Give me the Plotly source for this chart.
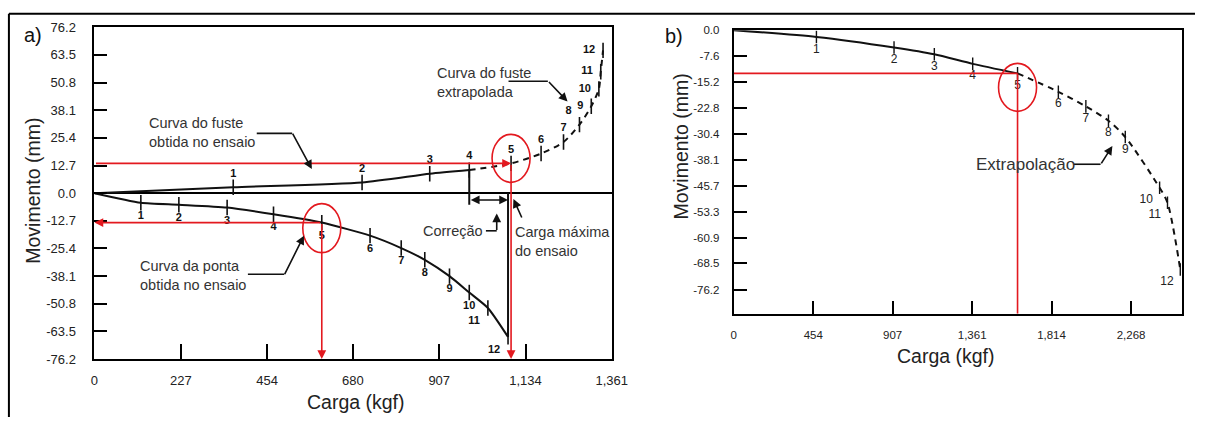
import plotly.graph_objects as go

W, H = 1211, 425

# ---------------- data ----------------
# a) fuste curve: origin + points 1..12 (1-4 measured, 5-12 extrapolated)
fuste_carga = [0, 365, 704, 882, 986, 1096, 1175, 1234, 1276, 1307, 1327, 1332, 1338]
fuste_mov = [0, 2.7, 4.9, 8.9, 10.6, 13.7, 18.2, 23.5, 31.5, 39.9, 47.9, 55.8, 65.6]
fuste_ultimo_ensaio = 4

# a) ponta curve: origin + points 1..12
ponta_carga = [0, 122, 222, 349, 471, 598, 725, 807, 869, 934, 986, 1035, 1088]
ponta_mov = [0, -4.4, -5.3, -6.6, -9.7, -13.5, -19.5, -25.2, -30.6, -38.1, -45.6, -52.7, -66.0]

# b) extrapolated curve: origin + points 1..12 (1-5 measured)
b_carga = [0, 472, 915, 1145, 1364, 1620, 1853, 2010, 2139, 2235, 2431, 2476, 2549]
b_mov = [0, -2.0, -5.1, -7.1, -9.9, -12.7, -18.1, -22.4, -26.6, -31.4, -46.3, -50.7, -70.3]
b_ultimo_ensaio = 5

point_labels = [str(i) for i in range(1, 13)]

a_xticks = [0, 227, 454, 680, 907, 1134, 1361]
a_xticklabels = ["0", "227", "454", "680", "907", "1,134", "1,361"]
a_yticks = [76.2, 63.5, 50.8, 38.1, 25.4, 12.7, 0.0, -12.7, -25.4, -38.1, -50.8, -63.5, -76.2]
a_yticklabels = ["76.2", "63.5", "50.8", "38.1", "25.4", "12.7", "0.0", "-12.7", "-25.4",
                 "-38.1", "-50.8", "-63.5", "-76.2"]
b_xticks = [0, 454, 907, 1361, 1814, 2268]
b_xticklabels = ["0", "454", "907", "1,361", "1,814", "2,268"]
b_yticks = [0.0, -7.6, -15.2, -22.8, -30.4, -38.1, -45.7, -53.3, -60.9, -68.5, -76.2]
b_yticklabels = ["0.0", "-7.6", "-15.2", "-22.8", "-30.4", "-38.1", "-45.7", "-53.3",
                 "-60.9", "-68.5", "-76.2"]

# ---------------- styles ----------------
RED = "#e3191f"
INK = "#111111"
TXT = "#333333"
FONT = "Liberation Sans, Arial, sans-serif"
LW = 2


def P(x, y):
    return x / W, 1 - y / H


fig = go.Figure()

# ---- a) fuste ----
k = fuste_ultimo_ensaio
fig.add_trace(go.Scatter(x=fuste_carga[:k + 1], y=fuste_mov[:k + 1], mode="lines",
                         line=dict(color=INK, width=LW, shape="spline", smoothing=0.6),
                         xaxis="x", yaxis="y", showlegend=False))
fig.add_trace(go.Scatter(x=fuste_carga[k:], y=fuste_mov[k:], mode="lines",
                         line=dict(color=INK, width=LW, dash="6px,5px", shape="spline", smoothing=0.8),
                         xaxis="x", yaxis="y", showlegend=False))
fuste_pos = ["top center"] * 7 + ["top left"] + ["middle left"] * 4
fig.add_trace(go.Scatter(x=fuste_carga[1:], y=fuste_mov[1:], mode="markers+text",
                         marker=dict(symbol="line-ns", size=11, line=dict(color=INK, width=1.6)),
                         text=point_labels, textposition=fuste_pos,
                         textfont=dict(family=FONT, size=11, color=INK, weight="bold"),
                         xaxis="x", yaxis="y", showlegend=False))

# ---- a) ponta ----
fig.add_trace(go.Scatter(x=ponta_carga, y=ponta_mov, mode="lines",
                         line=dict(color=INK, width=LW, shape="spline", smoothing=0.6),
                         xaxis="x", yaxis="y", showlegend=False))
ponta_pos = ["bottom center"] * 10 + ["bottom left"] * 2
fig.add_trace(go.Scatter(x=ponta_carga[1:], y=ponta_mov[1:], mode="markers+text",
                         marker=dict(symbol="line-ns", size=11, line=dict(color=INK, width=1.6)),
                         text=point_labels, textposition=ponta_pos,
                         textfont=dict(family=FONT, size=11, color=INK, weight="bold"),
                         xaxis="x", yaxis="y", showlegend=False))

# ---- b) ----
kb = b_ultimo_ensaio
fig.add_trace(go.Scatter(x=b_carga[:kb + 1], y=b_mov[:kb + 1], mode="lines",
                         line=dict(color=INK, width=LW, shape="spline", smoothing=0.6),
                         xaxis="x2", yaxis="y2", showlegend=False))
fig.add_trace(go.Scatter(x=b_carga[kb:], y=b_mov[kb:], mode="lines",
                         line=dict(color=INK, width=LW, dash="6px,5px", shape="spline", smoothing=0.8),
                         xaxis="x2", yaxis="y2", showlegend=False))
b_pos = ["bottom center"] * 9 + ["bottom left"] * 3
fig.add_trace(go.Scatter(x=b_carga[1:], y=b_mov[1:], mode="markers+text",
                         marker=dict(symbol="line-ns", size=9, line=dict(color=INK, width=1.4)),
                         text=point_labels, textposition=b_pos,
                         textfont=dict(family=FONT, size=12, color="#222222"),
                         xaxis="x2", yaxis="y2", showlegend=False))

shapes = []
annotations = []

# overall border (top and left)
for (x0, y0, x1, y1) in [(5, 7, W, 7), (5, 7, 5, H)]:
    a0, b0 = P(x0, y0)
    a1, b1 = P(x1, y1)
    shapes.append(dict(type="line", xref="paper", yref="paper", x0=a0, y0=b0, x1=a1, y1=b1,
                       line=dict(color="black", width=2)))

# ---- red readings in a) ----
fx5, fy5 = fuste_carga[5], fuste_mov[5]
px5, py5 = ponta_carga[5], ponta_mov[5]


def red_arrow(xh, yh, xt, yt, xr="x", yr="y"):
    annotations.append(dict(x=xh, y=yh, ax=xt, ay=yt, xref=xr, yref=yr, axref=xr, ayref=yr,
                            text="", showarrow=True, arrowhead=2, arrowsize=1.1,
                            arrowwidth=1.6, arrowcolor=RED))


red_arrow(fx5, fy5, 0, fy5)
red_arrow(fx5, -76.2, fx5, fy5)
red_arrow(0, py5, px5, py5)
red_arrow(px5, -76.2, px5, py5)

shapes.append(dict(type="circle", xref="x", yref="y", xsizemode="pixel", ysizemode="pixel",
                   xanchor=fx5, yanchor=fy5, x0=-19, x1=19, y0=-19, y1=29,
                   line=dict(color=RED, width=1.6)))
shapes.append(dict(type="circle", xref="x", yref="y", xsizemode="pixel", ysizemode="pixel",
                   xanchor=px5, yanchor=py5, x0=-19, x1=19, y0=-30, y1=19,
                   line=dict(color=RED, width=1.6)))

# black verticals (correction) in a)
x4, y4 = fuste_carga[fuste_ultimo_ensaio], fuste_mov[fuste_ultimo_ensaio]
xmax, ymax = ponta_carga[-1], ponta_mov[-1]
shapes.append(dict(type="line", xref="x", yref="y", x0=x4, y0=y4, x1=x4, y1=-5.3,
                   line=dict(color=INK, width=LW)))
shapes.append(dict(type="line", xref="x", yref="y", x0=xmax, y0=0, x1=xmax, y1=ymax,
                   line=dict(color=INK, width=LW)))
annotations.append(dict(x=xmax, y=-3.1, ax=x4, ay=-3.1, xref="x", yref="y", axref="x", ayref="y",
                        text="", showarrow=True, arrowhead=2, arrowside="end+start",
                        arrowsize=1.1, arrowwidth=1.6, arrowcolor=INK))

# ---- red readings in b) ----
bx5, by5 = b_carga[5], b_mov[5]
shapes.append(dict(type="line", xref="x2", yref="y2", x0=0, y0=by5, x1=bx5, y1=by5,
                   line=dict(color=RED, width=1.6)))
shapes.append(dict(type="line", xref="x2", yref="y2", x0=bx5, y0=by5, x1=bx5, y1=-83.3,
                   line=dict(color=RED, width=1.6)))
shapes.append(dict(type="circle", xref="x2", yref="y2", xsizemode="pixel", ysizemode="pixel",
                   xanchor=bx5, yanchor=by5, x0=-19, x1=19, y0=-38, y1=10,
                   line=dict(color=RED, width=1.6)))


# ---- callouts (pixel layout positions) ----
def callout(pts):
    for (xa, ya), (xb, yb) in zip(pts[:-2], pts[1:-1]):
        a0, b0 = P(xa, ya)
        a1, b1 = P(xb, yb)
        shapes.append(dict(type="line", xref="paper", yref="paper", x0=a0, y0=b0, x1=a1, y1=b1,
                           line=dict(color=INK, width=1.6)))
    (xt, yt), (xh, yh) = pts[-2], pts[-1]
    hx, hy = P(xh, yh)
    annotations.append(dict(x=hx, y=hy, xref="paper", yref="paper", ax=xt - xh, ay=yt - yh,
                            text="", showarrow=True, arrowhead=2, arrowsize=1.1,
                            arrowwidth=1.6, arrowcolor=INK))


def label(text, x, y, size=14.5, anchor="left"):
    ax_, ay_ = P(x, y)
    annotations.append(dict(x=ax_, y=ay_, xref="paper", yref="paper", text=text, showarrow=False,
                            xanchor=anchor, yanchor="middle", align="left",
                            font=dict(family=FONT, size=size, color=TXT)))


label("Curva do fuste<br>obtida no ensaio", 145, 130)
callout([(257, 131), (293, 131), (313, 168)])
label("Curva do fuste<br>extrapolada", 438, 78)
callout([(513, 77), (553, 77), (573, 98)])
label("Curva da ponta<br>obtida no ensaio", 136, 278)
callout([(248, 277), (285, 277), (305, 237)])
label("Correção", 489, 232, anchor="right")
callout([(490, 232), (501, 232), (501, 214)])
label("Carga máxima<br>do ensaio", 518, 243)
callout([(527, 219), (518, 199)])
label("Extrapolação", 986, 163, size=17)
callout([(1088, 163), (1115, 163), (1127, 144)])

# panel letters and axis titles
for t, x, y in [("a)", 29, 29), ("b)", 681, 30)]:
    ax_, ay_ = P(x, y)
    annotations.append(dict(x=ax_, y=ay_, xref="paper", yref="paper", text=t, showarrow=False,
                            xanchor="center", yanchor="middle",
                            font=dict(family=FONT, size=20, color="#111")))
for t, x, y, ang in [("Movimento (mm)", 30, 191, -90), ("Carga (kgf)", 358, 409, 0),
                     ("Movimento (mm)", 688, 145, -90), ("Carga (kgf)", 958, 362, 0)]:
    ax_, ay_ = P(x, y)
    annotations.append(dict(x=ax_, y=ay_, xref="paper", yref="paper", text=t, showarrow=False,
                            xanchor="center", yanchor="middle", textangle=ang,
                            font=dict(family=FONT, size=19.5, color="#222")))

axis_common = dict(showline=True, linecolor="black", linewidth=2, mirror=True, ticks="inside",
                   tickcolor="black", tickwidth=1.6, showgrid=False, tickmode="array")

fig.update_layout(
    width=W, height=H, margin=dict(l=0, r=0, t=0, b=0),
    paper_bgcolor="white", plot_bgcolor="white", showlegend=False,
    xaxis=dict(domain=[92 / W, 618 / W], range=[0, 1361], anchor="y", zeroline=False,
               tickvals=a_xticks, ticktext=a_xticklabels, ticklen=15, ticklabelstandoff=8,
               tickfont=dict(family=FONT, size=13, color="#222"), **axis_common),
    yaxis=dict(domain=[1 - 365 / H, 1 - 21 / H], range=[-76.2, 76.2], anchor="x",
               zeroline=True, zerolinecolor="black", zerolinewidth=1.6,
               tickvals=a_yticks, ticktext=a_yticklabels, ticklen=13, ticklabelstandoff=14,
               tickfont=dict(family=FONT, size=13, color="#222"), **axis_common),
    xaxis2=dict(domain=[742 / W, 1198 / W], range=[0, 2560], anchor="y2", zeroline=False,
                tickvals=b_xticks, ticktext=b_xticklabels, ticklen=13, ticklabelstandoff=9,
                tickfont=dict(family=FONT, size=11.5, color="#222"), **axis_common),
    yaxis2=dict(domain=[1 - 318 / H, 1 - 24 / H], range=[-83.3, 0], anchor="x2", zeroline=False,
                tickvals=b_yticks, ticktext=b_yticklabels, ticklen=13, ticklabelstandoff=10,
                tickfont=dict(family=FONT, size=11.5, color="#222"), **axis_common),
    shapes=shapes, annotations=annotations,
)

post = ("document.documentElement.style.margin='0';document.body.style.margin='0';"
        "document.body.style.overflow='hidden';document.documentElement.style.overflow='hidden';"
        "var d=document.getElementById('{plot_id}');d.style.position='fixed';"
        "d.style.left='0px';d.style.top='0px';")
fig.write_html("out.html", config={"displayModeBar": False}, post_script=post)
